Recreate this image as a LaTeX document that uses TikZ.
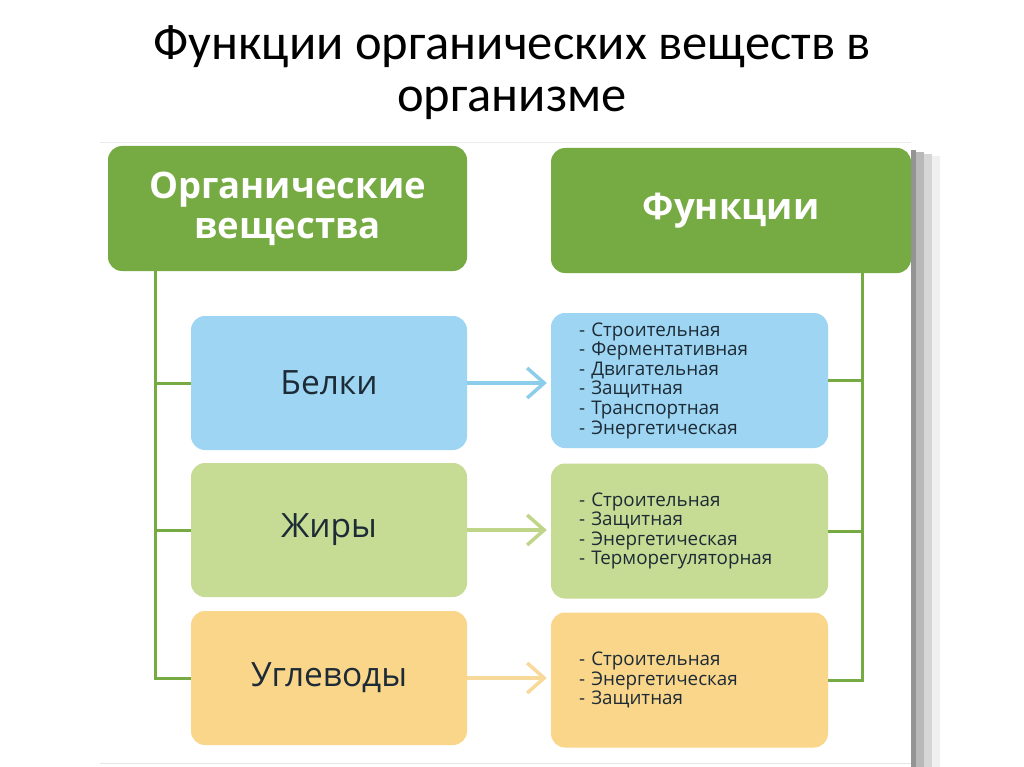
\documentclass[tikz,border=0pt]{standalone}
\usepackage{fontspec}
\newfontfamily\titlefont{Carlito}
\newfontfamily\osans{Open Sans}
\usetikzlibrary{arrows.meta}
\definecolor{dgreen}{HTML}{76AB43}
\definecolor{lblue}{HTML}{9DD5F2}
\definecolor{ablue}{HTML}{8CCDEB}
\definecolor{lgreen}{HTML}{C6DB93}
\definecolor{agreen}{HTML}{BFD68A}
\definecolor{lorange}{HTML}{FAD68A}
\definecolor{aorange}{HTML}{F7D999}
\definecolor{txt}{HTML}{1D2B36}
\tikzset{
  head/.style={fill=dgreen, rounded corners=14pt, minimum width=360pt, minimum height=125pt,
    text=white, align=center, font=\osans\bfseries\fontsize{36.5}{40}\selectfont},
  subst/.style={rounded corners=14pt, minimum width=276pt, minimum height=134pt,
    text=txt, align=center, font=\osans\fontsize{33.5}{36}\selectfont},
  funcs/.style={rounded corners=14pt, minimum width=277pt, minimum height=135pt,
    text width=221pt, inner xsep=28pt, text=txt, align=left,
    font=\osans\fontsize{18.8}{19.6}\selectfont},
  bus/.style={draw=dgreen, line width=3pt},
  arr/.style={line width=3.5pt, -{Straight Barb[length=17pt,width=30pt]}},
}
\begin{document}
\begin{tikzpicture}[x=1pt,y=-1pt]
\useasboundingbox (0,0) rectangle (1024,767);
\fill[white] (0,0) rectangle (1024,767);
% picture frame shadow
\fill[black!42] (911,150) rectangle (916,767);
\fill[black!28] (916,152) rectangle (924,767);
\fill[black!16] (924,154) rectangle (932,767);
\fill[black!6] (932,156) rectangle (940,767);
\draw[black!8, line width=1pt] (100,143) -- (911,143);
\draw[black!10, line width=1pt] (100,763) -- (911,763);
% title
\node[font=\titlefont\fontsize{50.5}{52}\selectfont, anchor=base] (t1) at (512,60) {Функции органических веществ в};
\node[font=\titlefont\fontsize{50.5}{52}\selectfont, anchor=base] (t2) at (512,112) {организме};
% heads
\node[head, minimum width=359pt] (org) at (287.5,208.5) {Органические\\вещества};
\node[head] (fun) at (731,210.5) {Функции};
% substances
\node[subst, fill=lblue] (belki) at (329,383) {Белки};
\node[subst, fill=lgreen] (zhiry) at (329,530) {Жиры};
\node[subst, fill=lorange] (ugl) at (329,678) {Углеводы};
% functions
\node[funcs, fill=lblue] (fb) at (689.5,380.5) {- Строительная\\- Ферментативная\\- Двигательная\\- Защитная\\- Транспортная\\- Энергетическая};
\node[funcs, fill=lgreen] (fz) at (689.5,531) {- Строительная\\- Защитная\\- Энергетическая\\- Терморегуляторная};
\node[funcs, fill=lorange] (fu) at (689.5,680) {- Строительная\\- Энергетическая\\- Защитная};
% buses
\coordinate (lb) at (155,0);
\coordinate (rb) at (862,0);
\draw[bus] (org.south -| lb) -- (ugl.west -| lb) -- (ugl.west);
\draw[bus] (belki.west -| lb) -- (belki.west);
\draw[bus] (zhiry.west -| lb) -- (zhiry.west);
\draw[bus] (fun.south -| rb) -- (fu.east -| rb) -- (fu.east);
\draw[bus] (fb.east -| rb) -- (fb.east);
\draw[bus] (fz.east -| rb) -- (fz.east);
% arrows
\draw[arr, ablue] (belki.east) -- ([xshift=-4pt]fb.west |- belki.east);
\draw[arr, agreen] (zhiry.east) -- ([xshift=-4pt]fz.west |- zhiry.east);
\draw[arr, aorange] (ugl.east) -- ([xshift=-4pt]fu.west |- ugl.east);
\end{tikzpicture}
\end{document}
